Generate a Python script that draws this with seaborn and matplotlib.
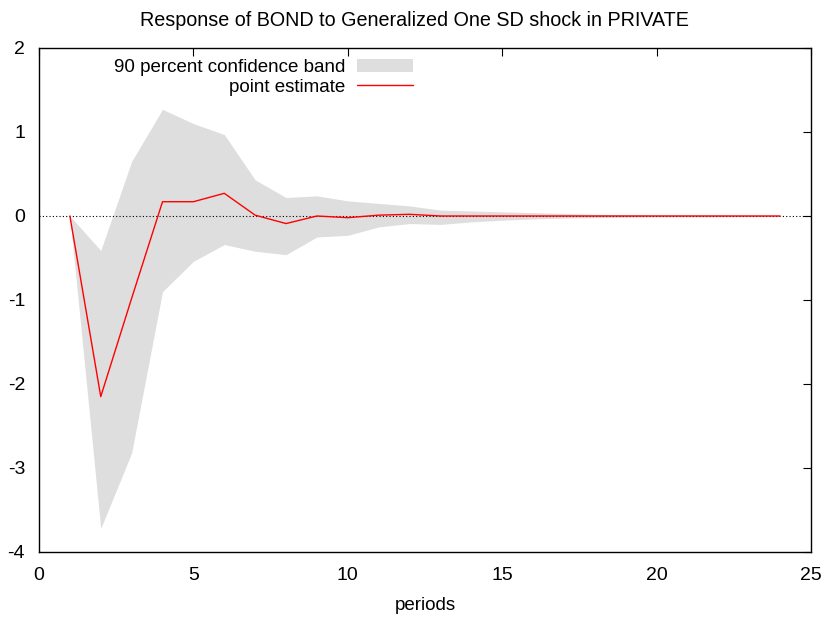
import numpy as np
import pandas as pd
import seaborn as sns
import matplotlib
matplotlib.use("Agg")
import matplotlib.pyplot as plt
from matplotlib.patches import Patch
from matplotlib.lines import Line2D

periods = list(range(1, 25))
point_estimate = [0.00, -2.15, -0.98, 0.17, 0.17, 0.27, 0.01, -0.09, 0.00, -0.02,
                  0.01, 0.02, 0.00, 0.00, 0.00, 0.00, 0.00, 0.00, 0.00, 0.00,
                  0.00, 0.00, 0.00, 0.00]
upper_band = [0.00, -0.41, 0.65, 1.27, 1.10, 0.97, 0.43, 0.22, 0.24, 0.18,
              0.15, 0.12, 0.07, 0.06, 0.05, 0.04, 0.03, 0.02, 0.015, 0.01,
              0.01, 0.01, 0.005, 0.003]
lower_band = [0.00, -3.72, -2.82, -0.90, -0.54, -0.34, -0.42, -0.46, -0.25, -0.23,
              -0.13, -0.09, -0.10, -0.07, -0.05, -0.035, -0.025, -0.02, -0.015, -0.01,
              -0.01, -0.01, -0.005, -0.003]

df = pd.DataFrame({"periods": periods, "point": point_estimate,
                   "upper": upper_band, "lower": lower_band})

sns.set_style("white")
plt.rcParams['font.family'] = ['Liberation Sans', 'DejaVu Sans']
plt.rcParams['axes.unicode_minus'] = False
plt.rcParams['text.color'] = 'black'
plt.rcParams['axes.labelcolor'] = 'black'
fs = 13.5

fig = plt.figure(figsize=(8.28, 6.21), dpi=100)
ax = fig.add_axes([39/828, 1-552/621, (811-39)/828, (552-48)/621])

band_color = "#dedede"
ax.fill_between(df["periods"], df["lower"], df["upper"], color=band_color, linewidth=0)
ax.axhline(0, color="black", linestyle=(0, (1, 2)), linewidth=0.8)
sns.lineplot(data=df, x="periods", y="point", color="red", linewidth=1.0, ax=ax)

ax.set_xlim(0, 25)
ax.set_ylim(-4, 2)
ax.set_xticks([0, 5, 10, 15, 20, 25])
ax.set_yticks([-4, -3, -2, -1, 0, 1, 2])
ax.tick_params(direction="in", length=6, width=0.8, top=True, right=True,
               labelsize=14, colors="black")
ax.tick_params(axis="x", pad=11)
ax.tick_params(axis="y", pad=10)
for s in ax.spines.values():
    s.set_color("black")
    s.set_linewidth(1.0)
ax.set_xlabel("periods", fontsize=fs, labelpad=9, color="black")
ax.set_ylabel("")
fig.suptitle("Response of BOND to Generalized One SD shock in PRIVATE",
             fontsize=14.2, y=1-20/621, va="center", color="black")

handles = [Patch(facecolor=band_color, edgecolor="none"),
           Line2D([0], [0], color="red", linewidth=1.0)]
labels = ["90 percent confidence band", "point estimate"]
ax.legend(handles, labels, loc="upper right", bbox_to_anchor=(413/828, 1-59/621),
          bbox_transform=fig.transFigure, frameon=False, markerfirst=False,
          fontsize=fs, handlelength=3.0, handletextpad=0.6, borderpad=0,
          borderaxespad=0, labelspacing=0.12)

fig.savefig("out.png", dpi=100)
